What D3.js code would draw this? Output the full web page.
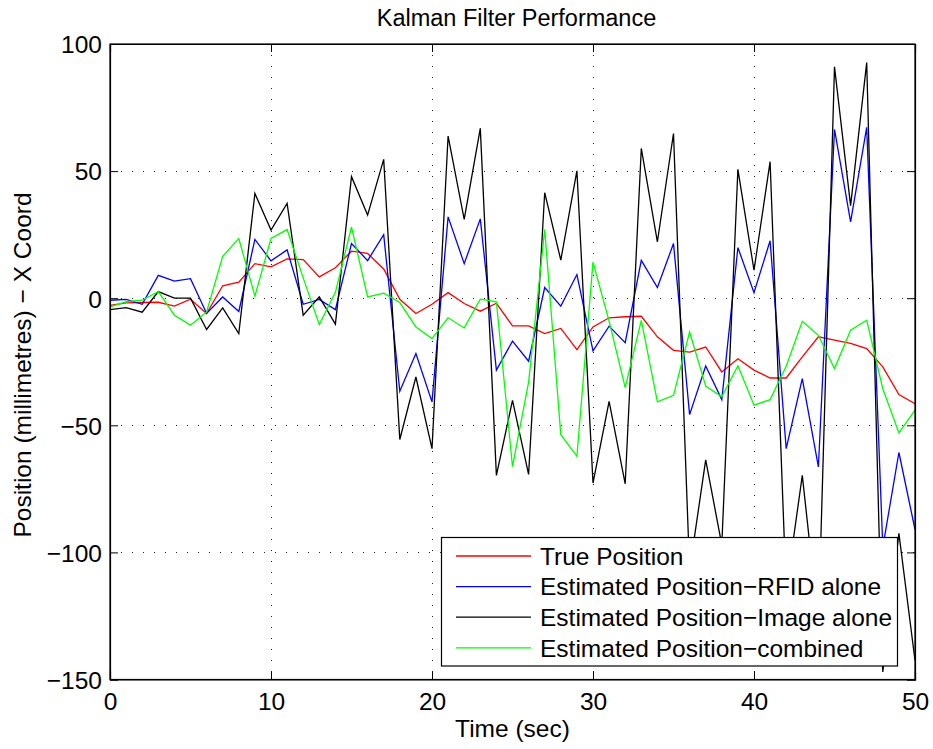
<!DOCTYPE html>
<html>
<head>
<meta charset="utf-8">
<script src="https://cdn.jsdelivr.net/npm/d3@7"></script>
<style>
    body { margin: 0; background: #fff; }
    svg { display: block; font-family: "Liberation Sans", Arial, sans-serif; }
</style>
</head>
<body>
<svg></svg>
<script>

/* Data */
var time = d3.range(0, 51)

var truePosition = [
    -2.8, -1.8, -1.7, -1.6, -3.1, -0.4, -6, 4.9, 6.3, 13.6,
    12.3, 15.5, 15.2, 8.4, 12, 18.5, 17.6, 11.5, -0.4, -6,
    -2.4, 2.2, -2.1, -5.1, -2, -10.9, -10.9, -13.9, -11.9, -20.2,
    -11.3, -7.7, -7.3, -7.1, -15.2, -20.5, -21.2, -19.2, -29, -23.8,
    -28.3, -31.4, -31.4, -23.1, -15.2, -16.5, -17.8, -19.8, -27, -37.9,
    -41.5
]

var rfidAlone = [
    -0.8, -0.5, -2.4, 9, 6.7, 7.7, -6, 0.5, -5.2, 23.1,
    14.7, 19, -2.4, -0.5, -4.5, 21.5, 14.8, 25, -36.6, -21.8,
    -40.8, 32, 13.6, 31.2, -28.3, -16.9, -24.8, 4.2, -3.1, 9.3,
    -20.7, -11, -17.5, 14.9, 4.2, 21.5, -45.8, -26.7, -39.9, 19.9,
    2.2, 22.6, -59.2, -31.6, -66.4, 66.4, 30, 67.2, -98, -60.7,
    -91
]

var imageAlone = [
    -4.5, -3.7, -5.5, 2.6, 0, 0, -12.3, -3.8, -13.9, 41.2,
    26.8, 37.3, -6.7, 0.5, -10.2, 47.8, 32.7, 54.6, -55.6, -31,
    -59.2, 63.8, 31, 66.8, -69.7, -40.2, -69.3, 41.5, 15, 50.1,
    -72.7, -40.6, -73, 58.9, 22.2, 64.8, -107, -63.6, -97, 50.7,
    11, 53.7, -115, -69.7, -128, 91, 36.4, 92.7, -147, -92.5,
    -142.5
]

var combined = [
    -3.4, -1.4, -0.8, 2.6, -6.7, -10.6, -5.4, 16.5, 23.5, 0.8,
    23.5, 27, 8, -10.4, 2.3, 28, 0.5, 2, -1.7, -11.3,
    -15.9, -7.7, -11.7, -0.4, -1.4, -66.3, -33, 27, -53.7, -62.2,
    14.2, -9, -35.2, -8.7, -40.8, -38.2, -13.3, -34.6, -38.8, -26.6,
    -42.1, -39.9, -26.8, -9.1, -14.6, -27.7, -12.6, -8.7, -35.6, -53,
    -44
]

var xTicks = [0, 10, 20, 30, 40, 50]
var yTicks = [-150, -100, -50, 0, 50, 100]

var series = [
    { name: "True Position", values: truePosition, color: "#ff0000" },
    { name: "Estimated Position\u2212RFID alone", values: rfidAlone, color: "#0000ff" },
    { name: "Estimated Position\u2212Image alone", values: imageAlone, color: "#000000" },
    { name: "Estimated Position\u2212combined", values: combined, color: "#00ff00" }
]

var width = 933
var height = 749
var plotLeft = 110, plotRight = 915, plotTop = 44, plotBottom = 679.5

/* SVG */
var svg = d3.select("svg")
    .attr("width", width)
    .attr("height", height)

/* Scales */
var xScale = d3.scaleLinear()
    .domain([0, 50])
    .range([plotLeft, plotRight])

var yScale = d3.scaleLinear()
    .domain([-150, 100])
    .range([plotBottom, plotTop])

/* Grid */
var grid = svg.append("g")
    .attr("stroke", "#222")
    .attr("stroke-width", 1)
    .attr("stroke-dasharray", "1,10")

grid.selectAll("line.gx")
    .data(xTicks.slice(1, -1))
    .enter()
        .append("line")
            .attr("x1", (d) => Math.round(xScale(d)) + 0.5)
            .attr("x2", (d) => Math.round(xScale(d)) + 0.5)
            .attr("y1", plotTop)
            .attr("y2", plotBottom)

grid.selectAll("line.gy")
    .data(yTicks.slice(1, -1))
    .enter()
        .append("line")
            .attr("x1", plotLeft)
            .attr("x2", plotRight)
            .attr("y1", (d) => Math.round(yScale(d)) + 0.5)
            .attr("y2", (d) => Math.round(yScale(d)) + 0.5)

/* Lines */
svg.append("clipPath")
    .attr("id", "plot")
    .append("rect")
        .attr("x", plotLeft)
        .attr("y", plotTop)
        .attr("width", plotRight - plotLeft)
        .attr("height", plotBottom - plotTop)

var line = d3.line()
    .x((d, i) => xScale(time[i]))
    .y((d) => yScale(d))

svg.append("g")
    .attr("clip-path", "url(#plot)")
    .selectAll("path")
    .data(series)
    .enter()
        .append("path")
            .attr("d", (d) => line(d.values))
            .attr("fill", "none")
            .attr("stroke", (d) => d.color)
            .attr("stroke-width", 1.3)
            .attr("stroke-linejoin", "miter")

/* Axes */
var fontSize = "24.5px"

var xAxis = d3.axisBottom(xScale)
    .tickValues(xTicks)
    .tickSize(-8)
    .tickPadding(13)
    .tickFormat(d3.format("d"))

var yAxis = d3.axisLeft(yScale)
    .tickValues(yTicks)
    .tickSize(-8)
    .tickPadding(8)
    .tickFormat(d3.format("d"))

var gx = svg.append("g")
    .attr("transform", "translate(0," + plotBottom + ")")
    .call(xAxis)

var gy = svg.append("g")
    .attr("transform", "translate(" + plotLeft + ",0)")
    .call(yAxis)

svg.append("g")
    .attr("transform", "translate(0," + plotTop + ")")
    .call(d3.axisTop(xScale).tickValues(xTicks).tickSize(-8).tickFormat(""))

svg.append("g")
    .attr("transform", "translate(" + plotRight + ",0)")
    .call(d3.axisRight(yScale).tickValues(yTicks).tickSize(-8).tickFormat(""))

svg.selectAll(".domain")
    .attr("stroke", "#000")
    .attr("stroke-width", 1.2)

svg.selectAll(".tick line")
    .attr("stroke", "#000")

svg.selectAll(".tick text")
    .attr("fill", "#000")
    .style("font-size", fontSize)
    .style("font-family", "'Liberation Sans', Arial, sans-serif")

gy.selectAll(".tick text")
    .attr("dy", "0.36em")

/* Box */
svg.append("rect")
    .attr("x", plotLeft)
    .attr("y", plotTop)
    .attr("width", plotRight - plotLeft)
    .attr("height", plotBottom - plotTop)
    .attr("fill", "none")
    .attr("stroke", "#000")
    .attr("stroke-width", 1.2)

/* Title and labels */
svg.append("text")
    .attr("x", (plotLeft + plotRight) / 2 + 4)
    .attr("y", 26)
    .attr("text-anchor", "middle")
    .style("font-size", "23.5px")
    .text("Kalman Filter Performance")

svg.append("text")
    .attr("x", (plotLeft + plotRight) / 2)
    .attr("y", 737)
    .attr("text-anchor", "middle")
    .style("font-size", fontSize)
    .text("Time (sec)")

svg.append("text")
    .attr("transform", "translate(31," + 365 + ") rotate(-90)")
    .attr("text-anchor", "middle")
    .style("font-size", fontSize)
    .text("Position (millimetres) \u2212 X Coord")

/* Legend */
var legend = svg.append("g")

legend.append("rect")
    .attr("x", 441.5)
    .attr("y", 537.5)
    .attr("width", 456)
    .attr("height", 128.5)
    .attr("fill", "#fff")
    .attr("stroke", "#000")
    .attr("stroke-width", 1.2)

var rows = legend.selectAll("g.row")
    .data(series)
    .enter()
        .append("g")
            .attr("transform", (d, i) => "translate(0," + (556 + i * 30.6) + ")")

rows.append("line")
    .attr("x1", 456)
    .attr("x2", 531)
    .attr("stroke", (d) => d.color)
    .attr("stroke-width", 1.3)

rows.append("text")
    .attr("x", 540)
    .attr("dy", "0.36em")
    .style("font-size", fontSize)
    .text((d) => d.name)

</script>
</body>
</html>
